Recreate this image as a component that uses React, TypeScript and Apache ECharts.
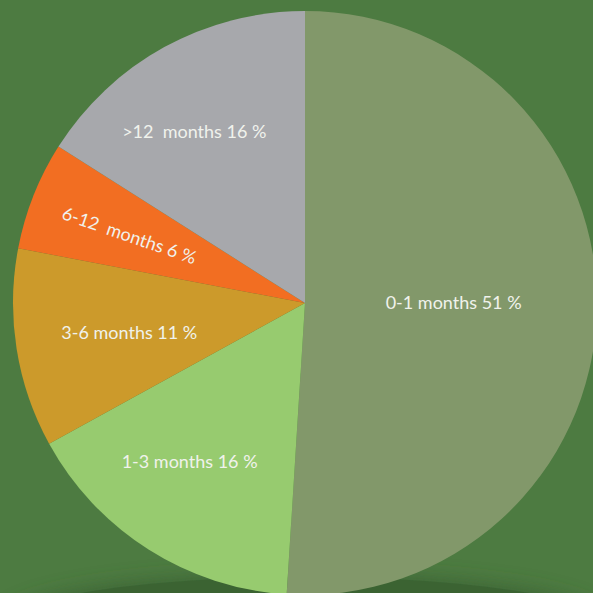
import React, { useEffect, useRef } from "react";
import * as echarts from "echarts";

const categories = ["0-1 months", "1-3 months", "3-6 months", "6-12  months", ">12  months"];
const values = [51, 16, 11, 6, 16];
const colors = ["#82986a", "#97cb6f", "#cc9a2b", "#f26e22", "#a7a8ac"];
const labelRadius = [0.509, 0.669, 0.61, 0.645, 0.7];
const labelAngleShift = [-2.2, 3.8, -0.4, -0.4, -4];
const labelRotate = [0, 0, 0, -19, 0];

const CX = 305;
const CY = 303;
const R = 292;

export default function App() {
  const ref = useRef<HTMLDivElement>(null);
  useEffect(() => {
    document.body.style.margin = "0";
    const chart = echarts.init(ref.current!, undefined, { renderer: "svg" });
    const total = values.reduce((a, b) => a + b, 0);
    const mids: number[] = [];
    let acc = 0;
    values.forEach((v, i) => {
      mids.push(((acc + v / 2) / total) * Math.PI * 2 + (labelAngleShift[i] * Math.PI) / 180);
      acc += v;
    });
    chart.setOption({
      animation: false,
      backgroundColor: "#4d7b41",
      graphic: [
        {
          type: "ellipse",
          z: -10,
          shape: { cx: 305, cy: 625, rx: 300, ry: 48 },
          style: {
            fill: "rgba(58,100,51,1)",
            shadowBlur: 22,
            shadowColor: "rgba(55,95,48,1)",
          },
          silent: true,
        },
      ],
      series: [
        {
          type: "pie",
          center: [CX, CY],
          radius: [0, R],
          startAngle: 90,
          clockwise: true,
          avoidLabelOverlap: false,
          itemStyle: { borderWidth: 0 },
          label: {
            show: true,
            position: "inside",
            color: "#f0f2ec",
            fontFamily: "Lato",
            fontWeight: 400,
            fontSize: 18,
            formatter: (p: any) => `${p.name} ${p.value} %`,
          },
          labelLine: { show: false },
          labelLayout: (p: any) => {
            const i = p.dataIndex;
            const a = mids[i];
            const d = labelRadius[i] * R;
            return {
              x: CX + d * Math.sin(a),
              y: CY - d * Math.cos(a),
              align: "center",
              verticalAlign: "middle",
              rotate: labelRotate[i],
            };
          },
          emphasis: { disabled: true },
          data: categories.map((c, i) => ({
            name: c,
            value: values[i],
            itemStyle: { color: colors[i] },
          })),
        },
      ],
    });
    return () => chart.dispose();
  }, []);
  return <div ref={ref} style={{ width: 593, height: 593 }} />;
}
